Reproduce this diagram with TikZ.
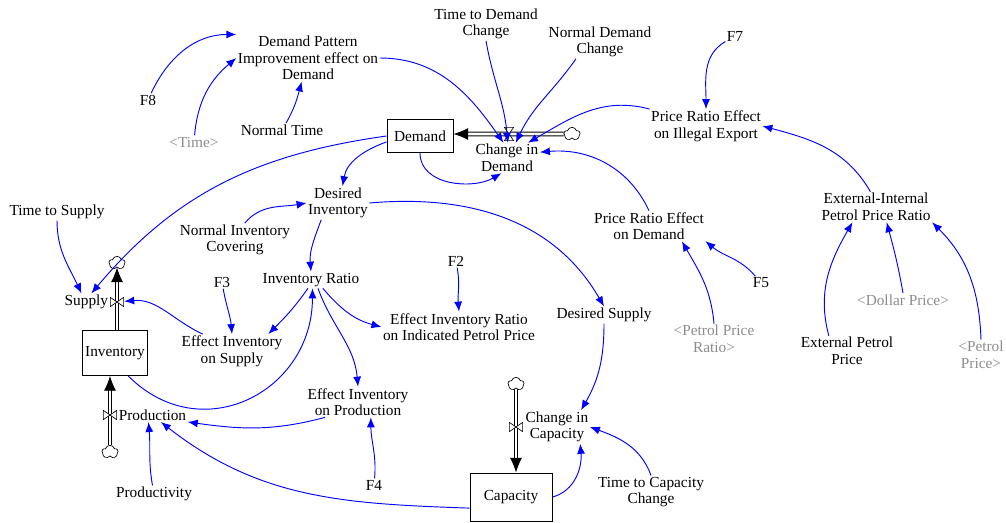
\documentclass[tikz,border=0pt]{standalone}
\usepackage{fontspec}
\setmainfont{Liberation Serif}
\usetikzlibrary{arrows.meta,shapes.symbols,backgrounds}
\begin{document}
\begin{tikzpicture}[x=0.75pt, y=0.75pt,
    var/.style={align=center, inner sep=1pt, font=\fontsize{11.5}{12.4}\selectfont},
    ghost/.style={var, text=black!45},
    stock/.style={var, draw=black, line width=0.75pt},
    link/.style={draw=blue, line width=0.7pt, -{Latex[length=7.5pt,width=6pt]}},
    pipe/.style={draw=black, double, double distance=2.2pt, line width=0.6pt, -{Latex[length=11pt,width=9pt]}},
    sink/.style={cloud, cloud puffs=5, aspect=1.2, draw=black, fill=white, line width=0.5pt, minimum width=12pt, minimum height=10pt, inner sep=0pt},
    valvev/.style={minimum width=10.5pt, minimum height=7.5pt, inner sep=0pt,
        path picture={\filldraw[fill=white, line width=0.5pt]
            ([shift={(0.3pt,0.3pt)}]path picture bounding box.south west) -- ([shift={(-0.3pt,-0.3pt)}]path picture bounding box.north east)
            -- ([shift={(-0.3pt,0.3pt)}]path picture bounding box.south east) -- ([shift={(0.3pt,-0.3pt)}]path picture bounding box.north west) -- cycle;}},
    valveh/.style={minimum width=7.5pt, minimum height=10.5pt, inner sep=0pt,
        path picture={\filldraw[fill=white, line width=0.5pt]
            ([shift={(0.3pt,-0.3pt)}]path picture bounding box.north west) -- ([shift={(-0.3pt,0.3pt)}]path picture bounding box.south east)
            -- ([shift={(0.3pt,0.3pt)}]path picture bounding box.south west) -- ([shift={(-0.3pt,-0.3pt)}]path picture bounding box.north east) -- cycle;}}
]
    \useasboundingbox (0,0) rectangle (1006,522);
    % stocks, valves and clouds
    \node[stock, minimum width=49.5pt, minimum height=24.75pt] (demand) at (420,386) {Demand};
    \node[stock, minimum width=48.75pt, minimum height=33.75pt] (inventory) at (115,169) {Inventory};
    \node[stock, minimum width=61.5pt, minimum height=36pt] (capacity) at (511,25) {Capacity};
    \node[valveh] (cidv) at (509,388) {};
    \node[valvev] (sv) at (117,220) {};
    \node[valvev] (pv) at (110,107) {};
    \node[valvev] (ccv) at (516,95) {};
    \node[sink] (cidc) at (572,388) {};
    \node[sink] (sc) at (117,259) {};
    \node[sink] (pc) at (110,70) {};
    \node[sink] (ccc) at (516,138) {};
    \node[var] (cid) at (507,364) {Change in\\Demand};
    \node[var, anchor=east] (supply) at (sv.west) {Supply};
    \node[var, anchor=west] (production) at (pv.east) {Production};
    \node[var] (ccl) at (557,95) {Change in\\Capacity};
    % variables
    \node[var] (dpi) at (308,464) {Demand Pattern\\Improvement effect on\\Demand};
    \node[var] (tdc) at (486,498) {Time to Demand\\Change};
    \node[var] (ndc) at (600,480) {Normal Demand\\Change};
    \node[var] (f7) at (735,486) {F7};
    \node[var] (f8) at (148,422) {F8};
    \node[ghost] (time) at (194,380) {<Time>};
    \node[var] (ntime) at (282,392) {Normal Time};
    \node[var] (preie) at (706,396) {Price Ratio Effect\\on Illegal Export};
    \node[var] (eippr) at (876,315) {External-Internal\\Petrol Price Ratio};
    \node[var] (dinv) at (338,319) {Desired\\Inventory};
    \node[var] (tts) at (57,310) {Time to Supply};
    \node[var] (nic) at (235,282) {Normal Inventory\\Covering};
    \node[var] (pred) at (649,296) {Price Ratio Effect\\on Demand};
    \node[var] (iratio) at (311,242) {Inventory Ratio};
    \node[var] (f2) at (456,261) {F2};
    \node[var] (f3) at (222,240) {F3};
    \node[var] (eis) at (232,171) {Effect Inventory\\on Supply};
    \node[var] (eirip) at (459,195) {Effect Inventory Ratio\\on Indicated Petrol Price};
    \node[var] (dsup) at (604,207) {Desired Supply};
    \node[var] (f5) at (761,239) {F5};
    \node[ghost] (ppr) at (714,183) {<Petrol Price\\Ratio>};
    \node[ghost] (dollar) at (903,222) {<Dollar Price>};
    \node[var] (epp) at (847,171) {External Petrol\\Price};
    \node[ghost] (pp) at (981,167) {<Petrol\\Price>};
    \node[var] (eip) at (358,120) {Effect Inventory\\on Production};
    \node[var] (f4) at (374,37) {F4};
    \node[var] (productivity) at (154,28) {Productivity};
    \node[var] (tcc) at (651,30) {Time to Capacity\\Change};
    % flows
    \begin{scope}[on background layer]
        \draw[pipe] (cidc) -- (cidc -| demand.east);
        \draw[pipe] (sv |- inventory.north) -- (sc);
        \draw[pipe] (pc) -- (pc |- inventory.south);
        \draw[pipe] (ccc) -- (ccc |- capacity.north);
    \end{scope}
    % links
    \draw[link] (f8) to[out=65,in=180] (dpi.north west);
    \draw[link] (time) to[out=85,in=220] (dpi.west);
    \draw[link] (ntime) to[out=60,in=255] (dpi);
    \draw[link] (dpi.east) to[out=0,in=125] (cid.103);
    \draw[link] (tdc.south) to[out=-80,in=95] (cid.87);
    \draw[link] (ndc.215) to[out=235,in=65] (cid.60);
    \draw[link] (preie.north west) to[out=165,in=30] (cid.36);
    \draw[link] (f7) to[out=210,in=90] (preie);
    \draw[link] (eippr.110) to[out=120,in=-15] (preie.east);
    \draw[link] (pred.north) to[out=115,in=5] (cid.10);
    \draw[link] (demand.south) to[out=-90,in=210] (cid.-110);
    \draw[link] (demand.190) to[out=200,in=80] (dinv.75);
    \draw[link] (demand.west) to[out=188,in=50] (supply.60);
    \draw[link] (dinv.east) to[out=5,in=120] (dsup.north);
    \draw[link] (nic.60) to[out=50,in=190] (dinv.west);
    \draw[link] (dinv.225) to[out=250,in=95] (iratio.north);
    \draw[link] (tts.south) to[out=-90,in=115] (supply.120);
    \draw[link] (f3) to[out=-80,in=95] (eis.north);
    \draw[link] (iratio.250) to[out=235,in=45] (eis.25);
    \draw[link] (eis.150) to[out=155,in=5] (sv);
    \draw[link] (iratio.-35) to[out=-50,in=165] (eirip.west);
    \draw[link] (iratio.-50) to[out=-70,in=95] (eip.north);
    \draw[link] (f2) to[out=-80,in=95] (eirip.north);
    \draw[link] (inventory.-60) to[out=-45,in=-90,looseness=1.3] (iratio.-80);
    \draw[link] (eip.-155) to[out=195,in=-8] (production.south east);
    \draw[link] (f4) to[out=85,in=-90] (eip.-50);
    \draw[link] (productivity) to[out=100,in=-85] (production.-120);
    \draw[link] (capacity.195) to[out=178,in=-38] (production.-40);
    \draw[link] (dsup.south) to[out=-90,in=60] (ccl.35);
    \draw[link] (capacity.east) to[out=15,in=-85] (ccl.-36);
    \draw[link] (tcc.north) to[out=110,in=-20] (ccl.east);
    \draw[link] (f5) to[out=130,in=-40] (pred.-15);
    \draw[link] (ppr.north) to[out=95,in=-60] (pred.-25);
    \draw[link] (epp.140) to[out=105,in=240] (eippr.-147);
    \draw[link] (dollar.north) to[out=100,in=-75] (eippr.-55);
    \draw[link] (pp.north) to[out=92,in=-45] (eippr.south east);
\end{tikzpicture}
\end{document}
